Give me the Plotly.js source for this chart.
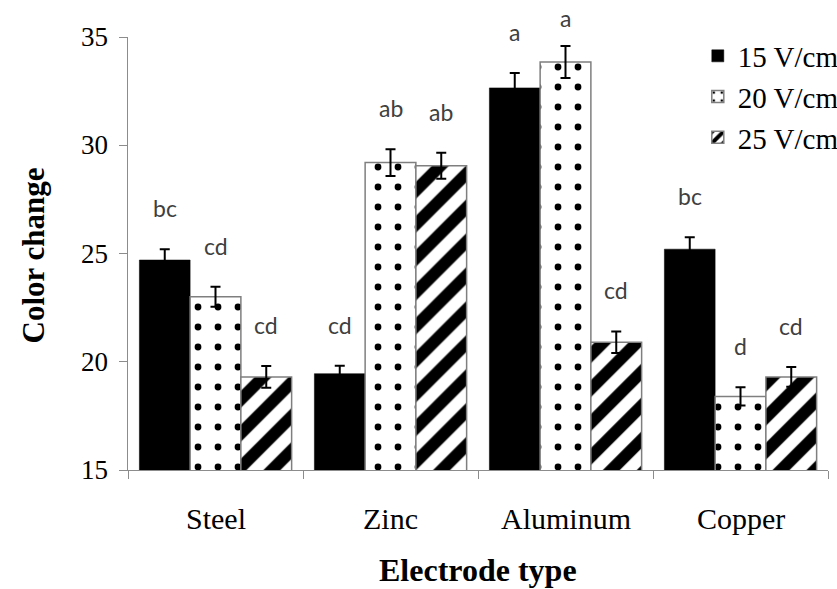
<!DOCTYPE html>
<html>
<head>
<meta charset="utf-8">
<script src="https://cdn.plot.ly/plotly-3.0.1.min.js"></script>
<style>
html,body{margin:0;padding:0;background:#fff}
#chart{width:837px;height:589px}
</style>
</head>
<body>
<div id="chart"></div>
<script>
const categories = ['Steel', 'Zinc', 'Aluminum', 'Copper'];
const seriesNames = ['15 V/cm', '20 V/cm', '25 V/cm'];
const values15 = [24.7, 19.45, 32.65, 25.2];
const errors15 = [0.5, 0.37, 0.69, 0.55];
const values20 = [23.0, 29.2, 33.85, 18.4];
const errors20 = [0.46, 0.62, 0.74, 0.42];
const values25 = [19.3, 29.05, 20.9, 19.3];
const errors25 = [0.5, 0.6, 0.5, 0.46];
const letters15 = ['bc', 'cd', 'a', 'bc'];
const letters20 = ['cd', 'ab', 'a', 'd'];
const letters25 = ['cd', 'ab', 'cd', 'cd'];
const yTicks = [15, 20, 25, 30, 35];
const yRange = [15, 35];
const xTitle = 'Electrode type';
const yTitle = 'Color change';

const W = 837, H = 589;
const margin = {l: 128, r: 9, t: 37, b: 119, pad: 0, autoexpand: false};
const bargap = 0.13;
const SERIF = 'Liberation Serif, Times New Roman, serif';

const allValues = [values15, values20, values25];
const allErrors = [errors15, errors20, errors25];
const allLetters = [letters15, letters20, letters25];

const markers = [
  {color: '#000000', line: {color: '#000000', width: 0.5}},
  {color: '#ffffff', line: {color: '#7f7f7f', width: 1.5},
   pattern: {shape: '.', fgcolor: '#000000', bgcolor: '#ffffff', size: 20, solidity: 0.09}},
  {color: '#ffffff', line: {color: '#7f7f7f', width: 1.5},
   pattern: {shape: '/', fgcolor: '#000000', bgcolor: '#ffffff', size: 24, solidity: 0.5}}
];

const traces = seriesNames.map((name, i) => ({
  type: 'bar',
  name: name,
  x: categories,
  y: allValues[i],
  legendgroup: 'g' + i,
  marker: markers[i],
  error_y: {type: 'data', array: allErrors[i], visible: true, color: '#000000', thickness: 2, width: 5},
  hoverinfo: 'skip'
}));

const plotW = W - margin.l - margin.r;
const plotH = H - margin.t - margin.b;
const catW = plotW / categories.length;
const barW = catW * (1 - bargap) / seriesNames.length;
const labelGap = 41;
const topLimit = 18;

function serifSpan(s) {
  return '<span style="font-family:\'Liberation Serif\', serif">' + s + '</span>';
}

const annotations = [];
// significance letters above each bar
allLetters.forEach((letters, i) => {
  letters.forEach((txt, k) => {
    const top = allValues[i][k] + allErrors[i][k];
    const topPx = margin.t + (yRange[1] - top) / (yRange[1] - yRange[0]) * plotH;
    const shift = Math.min(labelGap, topPx - topLimit);
    annotations.push({
      x: categories[k], y: top, xref: 'x', yref: 'y',
      text: txt, showarrow: false,
      xshift: (i - 1) * barW, yshift: shift, yanchor: 'middle',
      font: {family: 'Lato', size: 23, color: '#404040'}
    });
  });
});
// category tick labels (serif)
categories.forEach(c => {
  annotations.push({
    x: c, xref: 'x', y: 0, yref: 'paper',
    text: serifSpan(c), showarrow: false, yanchor: 'middle', yshift: -48,
    font: {family: SERIF, size: 30, color: '#000000'}
  });
});
// value tick labels (serif)
yTicks.forEach(v => {
  annotations.push({
    x: 0, xref: 'paper', y: v, yref: 'y',
    text: serifSpan(String(v)), showarrow: false, xanchor: 'right', yanchor: 'middle', xshift: -18,
    font: {family: SERIF, size: 27, color: '#000000'}
  });
});
// axis titles
annotations.push({
  x: 0.5, xref: 'paper', y: 0, yref: 'paper',
  text: '<b>' + xTitle + '</b>', showarrow: false, yanchor: 'middle', yshift: -100,
  font: {family: SERIF, size: 32, color: '#000000'}
});
annotations.push({
  x: 0, xref: 'paper', y: 0.5, yref: 'paper',
  text: '<b>' + yTitle + '</b>', showarrow: false, textangle: -90,
  xanchor: 'center', yanchor: 'middle', xshift: -95, yshift: -2,
  font: {family: SERIF, size: 31, color: '#000000'}
});

const layout = {
  width: W, height: H,
  margin: margin,
  paper_bgcolor: '#ffffff',
  plot_bgcolor: '#ffffff',
  font: {family: SERIF, color: '#000000', size: 27},
  barmode: 'group',
  bargap: bargap,
  bargroupgap: 0,
  showlegend: true,
  legend: {
    x: 0.814, xanchor: 'left',
    y: 1.015, yanchor: 'top',
    font: {family: SERIF, size: 29, color: '#000000'},
    traceorder: 'grouped',
    tracegroupgap: 0,
    itemwidth: 30,
    bgcolor: 'rgba(0,0,0,0)'
  },
  xaxis: {
    type: 'category',
    showline: true, linecolor: '#8c8c8c', linewidth: 1,
    ticks: 'outside', tickson: 'boundaries', ticklen: 8, tickcolor: '#8c8c8c',
    showticklabels: false,
    showgrid: false, zeroline: false
  },
  yaxis: {
    range: yRange,
    tickvals: yTicks,
    showline: true, linecolor: '#8c8c8c', linewidth: 1,
    ticks: 'outside', ticklen: 8, tickcolor: '#8c8c8c',
    showticklabels: false,
    showgrid: false, zeroline: false
  },
  annotations: annotations
};

Plotly.newPlot('chart', traces, layout, {displayModeBar: false});
</script>
</body>
</html>
